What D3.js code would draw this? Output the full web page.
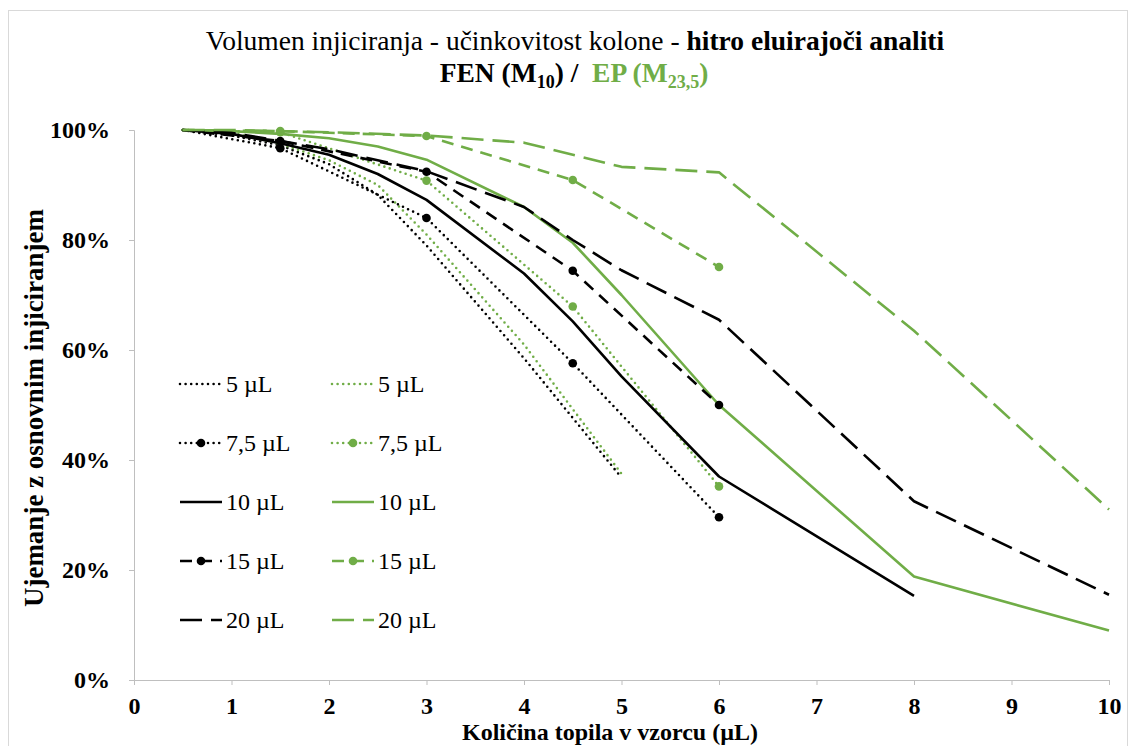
<!DOCTYPE html>
<html>
<head>
<meta charset="utf-8">
<script src="https://cdn.jsdelivr.net/npm/d3@7"></script>
<style>
  body { margin: 0; background: #fff; }
  text { font-family: "Liberation Serif", "Times New Roman", serif; }
</style>
</head>
<body>
<div id="chart"></div>
<script>
// Data: x = količina topila v vzorcu (µL), y = ujemanje z osnovnim injiciranjem (%)
// FEN (M10) - black
const fen5X  = [0.5, 1, 1.5, 2, 2.5, 3, 4, 5];
const fen5Y  = [100, 99, 97.2, 93.8, 88.2, 79, 58.5, 36.8];
const fen75X = [0.5, 1.5, 3, 4.5, 6];
const fen75Y = [100, 96.7, 84, 57.6, 29.6];
const fen10X = [0.5, 1, 1.5, 2, 2.5, 3, 4, 4.5, 5, 6, 8];
const fen10Y = [100, 99.3, 97.6, 95.5, 92, 87.3, 73.9, 65.2, 55.2, 37, 15.3];
const fen15X = [0.5, 1.5, 3, 4.5, 6];
const fen15Y = [100, 98, 92.4, 74.4, 50];
const fen20X = [0.5, 1, 2, 3, 4, 4.5, 5, 6, 8, 10];
const fen20Y = [100, 99.5, 96.5, 92.5, 86, 80, 74.5, 65.5, 32.5, 15.5];

// EP (M23,5) - green
const ep5X  = [0.5, 1, 1.5, 2, 2.5, 3, 4, 5];
const ep5Y  = [100, 99.5, 97.5, 94.5, 90, 81, 61, 37.5];
const ep75X = [0.5, 1.5, 3, 4.5, 6];
const ep75Y = [100, 99.6, 90.8, 67.9, 35.2];
const ep10X = [0.5, 1, 1.5, 2, 2.5, 3, 4, 4.5, 5, 6, 8, 10];
const ep10Y = [100, 99.8, 99.3, 98.5, 97, 94.6, 86, 79.5, 70, 50, 18.8, 9];
const ep15X = [0.5, 1.5, 3, 4.5, 6];
const ep15Y = [100, 99.8, 98.9, 90.9, 75.1];
const ep20X = [0.5, 1, 2, 3, 4, 5, 6, 8, 10];
const ep20Y = [100, 100, 99.6, 99, 97.7, 93.3, 92.3, 63.5, 31];

const volumeLabels = ["5 µL", "7,5 µL", "10 µL", "15 µL", "20 µL"];
const xTicks = [0, 1, 2, 3, 4, 5, 6, 7, 8, 9, 10];
const yTicks = [0, 20, 40, 60, 80, 100];

const black = "#000000";
const green = "#70ad47";
const axisGrey = "#bfbfbf";

// line style per injection volume
const styles = [
  {dash: "0,5.6", markers: false},
  {dash: "0,5.6", markers: true},
  {dash: null, markers: false},
  {dash: "12,8", markers: true},
  {dash: "22,9", markers: false}
];

const fenSeries = [[fen5X, fen5Y], [fen75X, fen75Y], [fen10X, fen10Y], [fen15X, fen15Y], [fen20X, fen20Y]];
const epSeries = [[ep5X, ep5Y], [ep75X, ep75Y], [ep10X, ep10Y], [ep15X, ep15Y], [ep20X, ep20Y]];

const series = [];
volumeLabels.forEach((label, i) => {
  series.push({label: label, color: black, col: 0, row: i, style: styles[i],
    points: fenSeries[i][0].map((x, j) => ({x: x, y: fenSeries[i][1][j]}))});
  series.push({label: label, color: green, col: 1, row: i, style: styles[i],
    points: epSeries[i][0].map((x, j) => ({x: x, y: epSeries[i][1][j]}))});
});

const W = 1131, H = 746;
const svg = d3.select("#chart").append("svg")
  .attr("width", W)
  .attr("height", H);

// chart frame
svg.append("rect")
  .attr("x", 8.5).attr("y", 10.5)
  .attr("width", 1119).attr("height", 800)
  .attr("fill", "none")
  .attr("stroke", "#d9d9d9");

const x = d3.scaleLinear().domain([0, 10]).range([134, 1109]);
const y = d3.scaleLinear().domain([0, 100]).range([680, 130]);

// Y axis
const yAxis = svg.append("g")
  .attr("transform", `translate(${x(0)},0)`)
  .call(d3.axisLeft(y).tickValues(yTicks).tickSize(5).tickPadding(19).tickFormat(d => d + "%"));
yAxis.select(".domain").attr("stroke", axisGrey);
yAxis.selectAll(".tick line").attr("stroke", axisGrey);
yAxis.selectAll(".tick text")
  .attr("fill", black)
  .style("font-family", "'Liberation Serif', serif")
  .style("font-size", "24px")
  .style("font-weight", "bold");

// X axis
const xAxis = svg.append("g")
  .attr("transform", `translate(0,${y(0)})`)
  .call(d3.axisBottom(x).tickValues(xTicks).tickSize(5).tickPadding(12).tickFormat(d3.format("d")));
xAxis.select(".domain").attr("stroke", axisGrey);
xAxis.selectAll(".tick line").attr("stroke", axisGrey);
xAxis.selectAll(".tick text")
  .attr("fill", black)
  .style("font-family", "'Liberation Serif', serif")
  .style("font-size", "24px")
  .style("font-weight", "bold");

// axis titles
svg.append("text")
  .attr("x", 610).attr("y", 740)
  .attr("text-anchor", "middle")
  .style("font-size", "24px")
  .style("font-weight", "bold")
  .text("Količina topila v vzorcu (µL)");

svg.append("text")
  .attr("transform", "translate(43,408) rotate(-90)")
  .attr("text-anchor", "middle")
  .style("font-size", "27px")
  .style("font-weight", "bold")
  .text("Ujemanje z osnovnim injiciranjem");

// title
const t1 = svg.append("text")
  .attr("x", 575).attr("y", 50)
  .attr("text-anchor", "middle")
  .style("font-size", "27.5px");
t1.append("tspan").text("Volumen injiciranja - učinkovitost kolone - ");
t1.append("tspan").style("font-weight", "bold").text("hitro eluirajoči analiti");

const t2 = svg.append("text")
  .attr("x", 574).attr("y", 82)
  .attr("text-anchor", "middle")
  .attr("xml:space", "preserve")
  .style("white-space", "pre")
  .style("font-size", "27.5px")
  .style("font-weight", "bold");
t2.append("tspan").text("FEN (M");
t2.append("tspan").attr("dy", 6).style("font-size", "18px").text("10");
t2.append("tspan").attr("dy", -6).text(") /  ");
t2.append("tspan").attr("fill", green).text("EP (M");
t2.append("tspan").attr("fill", green).attr("dy", 6).style("font-size", "18px").text("23,5");
t2.append("tspan").attr("fill", green).attr("dy", -6).text(")");

// lines
const line = d3.line().x(d => x(d.x)).y(d => y(d.y));

const plot = svg.append("g");
series.forEach(s => {
  plot.append("path")
    .datum(s.points)
    .attr("d", line)
    .attr("fill", "none")
    .attr("stroke", s.color)
    .attr("stroke-width", 2.6)
    .attr("stroke-linecap", s.style.dash && s.style.dash.startsWith("0,") ? "round" : "butt")
    .attr("stroke-linejoin", "round")
    .attr("stroke-dasharray", s.style.dash);

  if (s.style.markers) {
    plot.selectAll(null)
      .data(s.points.slice(1))
      .enter()
      .append("circle")
      .attr("cx", d => x(d.x))
      .attr("cy", d => y(d.y))
      .attr("r", 4.3)
      .attr("fill", s.color);
  }
});

// legend
const legendX = [180, 332];
const legendY = [384, 443, 502, 561, 620];
const sampleLen = 42;

const legend = svg.append("g");
series.forEach(s => {
  const lx = legendX[s.col], ly = legendY[s.row];
  const g = legend.append("g");
  g.append("line")
    .attr("x1", lx).attr("x2", lx + sampleLen)
    .attr("y1", ly).attr("y2", ly)
    .attr("stroke", s.color)
    .attr("stroke-width", 2.6)
    .attr("stroke-linecap", s.style.dash && s.style.dash.startsWith("0,") ? "round" : "butt")
    .attr("stroke-dasharray", s.style.dash);
  if (s.style.markers) {
    g.append("circle")
      .attr("cx", lx + sampleLen / 2).attr("cy", ly)
      .attr("r", 4.3)
      .attr("fill", s.color);
  }
  g.append("text")
    .attr("x", lx + sampleLen + 4)
    .attr("y", ly + 8)
    .style("font-size", "24px")
    .attr("fill", black)
    .text(s.label);
});
</script>
</body>
</html>
